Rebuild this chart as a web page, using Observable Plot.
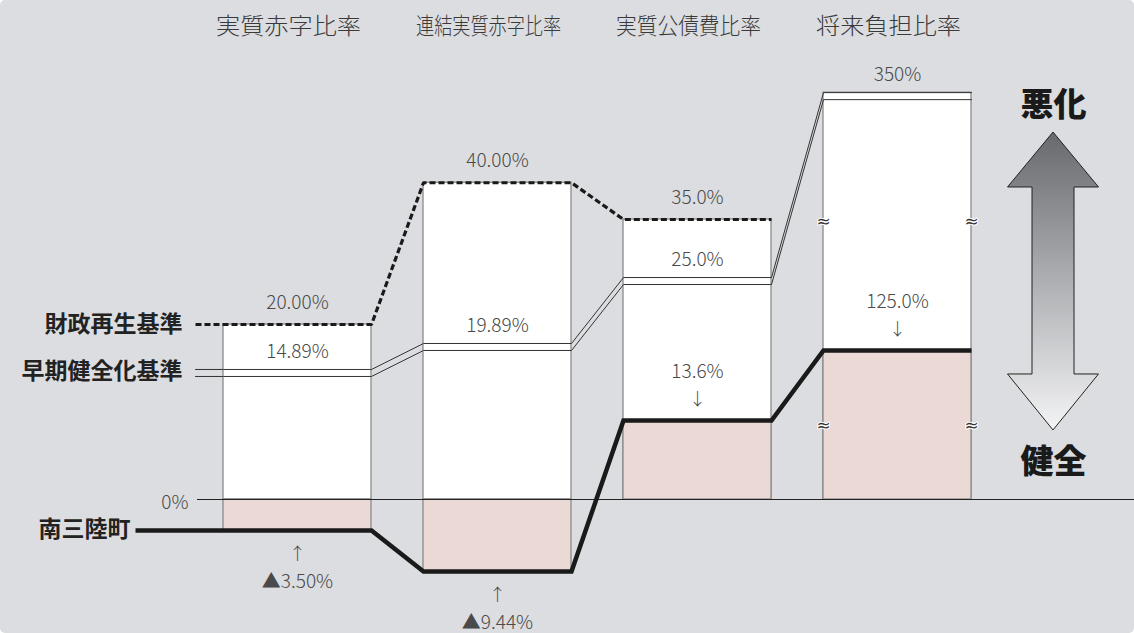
<!DOCTYPE html>
<html><head><meta charset="utf-8">
<script src="https://cdn.jsdelivr.net/npm/d3@7"></script>
<script src="https://cdn.jsdelivr.net/npm/@observablehq/plot@0.6"></script>
<style>
body{margin:0;background:#fff;}
#chart svg{display:block;border-radius:5px;}
</style></head><body><div id="chart"></div>
<script>
// ---- data ----
const categories = ["実質赤字比率","連結実質赤字比率","実質公債費比率","将来負担比率"];
const seriesNames = ["財政再生基準","早期健全化基準","南三陸町"];
const rescueLabels = ["20.00%","40.00%","35.0%",null];
const earlyLabels  = ["14.89%","19.89%","25.0%","350%"];
const townValues   = [-3.50, -9.44, 13.6, 125.0];
const townLabels   = ["▲3.50%","▲9.44%","13.6%","125.0%"];
// schematic gauge levels (the original diagram is not drawn to scale)
const rescueLevel = [20.0, 36.2, 32.0, null];
const earlyLevel  = [14.86, 17.83, 25.37, 46.5];
const townLevel   = [-3.54, -8.23, 9.03, 17.03];
const breakLevels = [31.8, 8.46];       // broken-scale marks on 将来負担比率
const directionLabels = ["悪化","健全"];
const zeroLabel = "0%";

// ---- layout ----
const W = 1134, H = 633;
const HW = 0.37;
const FONT = "'Noto Sans CJK JP','Noto Sans',sans-serif";
const cols = categories.map((c,i)=>({c, i,
  top: rescueLevel[i] ?? earlyLevel[i], town: townLevel[i],
  rescue: rescueLevel[i], early: earlyLevel[i],
  rLab: rescueLabels[i], eLab: earlyLabels[i], tLab: townLabels[i], tVal: townValues[i]}));

function stepPts(levels, startX){
  const pts = [];
  if (startX != null) pts.push({x:startX, y:levels[0]});
  levels.forEach((L,i)=>{ if (L==null) return; pts.push({x:i-HW,y:L},{x:i+HW,y:L}); });
  return pts;
}
const rescuePts = stepPts(rescueLevel, -0.51);
const earlyPts  = stepPts(earlyLevel, -0.51);
const townPts   = stepPts(townLevel, -0.81);
const breaks = [];
breakLevels.forEach(L => { breaks.push({x:3-HW,y:L},{x:3+HW,y:L}); });
const pos = cols.filter(d=>d.tVal>0), neg = cols.filter(d=>d.tVal<0);
const lab = {fill:"#4a4a4a", fontSize:19, fontWeight:300, fontFamily:FONT};
const arr = {fill:"#4a4a4a", fontSize:17, fontWeight:300, fontFamily:FONT};

const chart = Plot.plot({
  width: W, height: H,
  marginTop:0, marginBottom:0, marginLeft:0, marginRight:0,
  x: {domain:[-1.485, 4.185], axis:null},
  y: {domain:[-15.314, 57.03], axis:null},
  style: {background:"#dcdde0", fontFamily: FONT},
  marks: [
    Plot.rect(cols, {x1:d=>d.i-HW, x2:d=>d.i+HW, y1:0, y2:"top", fill:"white", stroke:"#8a8a8a", strokeWidth:1.3}),
    Plot.rect(cols, {x1:d=>d.i-HW, x2:d=>d.i+HW, y1:0, y2:"town", fill:"#ead9d4", stroke:"#8a8a8a", strokeWidth:1.3}),
    Plot.ruleY([0], {x1:-0.5, x2:4.185, stroke:"#222", strokeWidth:1}),
    Plot.text(breaks, {x:"x", y:"y", text:()=>"≈", fontSize:17, fill:"#333", stroke:"white", strokeWidth:2, paintOrder:"stroke", fontFamily:"'DejaVu Sans',sans-serif"}),
    Plot.line(earlyPts, {x:"x", y:"y", stroke:"#333", strokeWidth:1}),
    Plot.line(earlyPts, {x:"x", y:"y", stroke:"#333", strokeWidth:1, dy:7}),
    Plot.line(rescuePts, {x:"x", y:"y", stroke:"#1a1a1a", strokeWidth:3.2, strokeDasharray:"6,3", strokeLinecap:"butt", strokeLinejoin:"miter"}),
    Plot.line(townPts, {x:"x", y:"y", stroke:"#1a1a1a", strokeWidth:4.5, strokeLinecap:"butt", strokeLinejoin:"miter", strokeMiterlimit:10}),
    // headers
    Plot.text(categories, {x:(d,i)=>i-0.045, frameAnchor:"top", dy:26, lineAnchor:"middle", text:d=>d, fontSize:23, fill:"#3a3a3a", fontWeight:300, fontFamily:FONT}),
    // value labels
    Plot.text(cols.filter(d=>d.rLab), {x:"i", y:"rescue", dy:-22, text:"rLab", ...lab}),
    Plot.text(cols, {x:"i", y:"early", text:"eLab", ...lab, dy:-18}),
    Plot.text(pos, {x:"i", y:"town", dy:-49, text:"tLab", ...lab}),
    Plot.text(pos, {x:"i", y:"town", dy:-21, text:()=>"↓", ...arr}),
    Plot.text(neg, {x:"i", y:"town", dy:24, text:()=>"↑", ...arr}),
    Plot.text(neg, {x:"i", y:"town", dy:51, text:"tLab", ...lab}),
    Plot.text([zeroLabel], {x:-0.545, y:0, dy:3, text:d=>d, textAnchor:"end", ...lab}),
    // series labels
    Plot.text([seriesNames[0]], {x:-0.575, y:rescueLevel[0], dy:0, text:d=>d, textAnchor:"end", fontSize:23, fontWeight:"bold", fill:"#222", fontFamily:FONT}),
    Plot.text([seriesNames[1]], {x:-0.575, y:earlyLevel[0], dy:2, text:d=>d, textAnchor:"end", fontSize:23, fontWeight:"bold", fill:"#222", fontFamily:FONT}),
    Plot.text([seriesNames[2]], {x:-0.835, y:townLevel[0], dy:-1, text:d=>d, textAnchor:"end", fontSize:23, fontWeight:"bold", fill:"#222", fontFamily:FONT}),
    // direction labels
    Plot.text(directionLabels, {x:3.78, y:(d,i)=>i===0?45.03:4.23, text:d=>d, fontSize:33, fontWeight:900, fill:"#1a1a1a", fontFamily:FONT})
  ]
});

// header width fit
d3.select(chart).selectAll("text").filter(function(){ return categories.includes(this.textContent); })
  .attr("textLength", 145).attr("lengthAdjust","spacingAndGlyphs");

// decorative double arrow (悪化 ↕ 健全)
const sx = chart.scale("x"), sy = chart.scale("y");
const ax = 3.78, hh = 0.2275, sh = 0.105;
const X = v => sx.apply(v), Y = v => sy.apply(v);
const pts = [
  [ax, 41.94],[ax+hh, 35.66],[ax+sh, 35.66],[ax+sh, 14.29],[ax+hh, 14.29],[ax, 7.89],
  [ax-hh, 14.29],[ax-sh, 14.29],[ax-sh, 35.66],[ax-hh, 35.66]
].map(([x,y])=>[X(x),Y(y)]);
const svg = d3.select(chart);
const defs = svg.append("defs");
const g = defs.append("linearGradient").attr("id","arrowGrad").attr("x1",0).attr("y1",0).attr("x2",0).attr("y2",1);
g.append("stop").attr("offset","0%").attr("stop-color","#67696c");
g.append("stop").attr("offset","55%").attr("stop-color","#b4b6b9");
g.append("stop").attr("offset","100%").attr("stop-color","#f4f4f5");
svg.append("path").attr("d","M"+pts.map(p=>p.join(",")).join("L")+"Z")
  .attr("fill","url(#arrowGrad)").attr("stroke","#222").attr("stroke-width",1);

document.getElementById("chart").appendChild(chart);
</script></body></html>
